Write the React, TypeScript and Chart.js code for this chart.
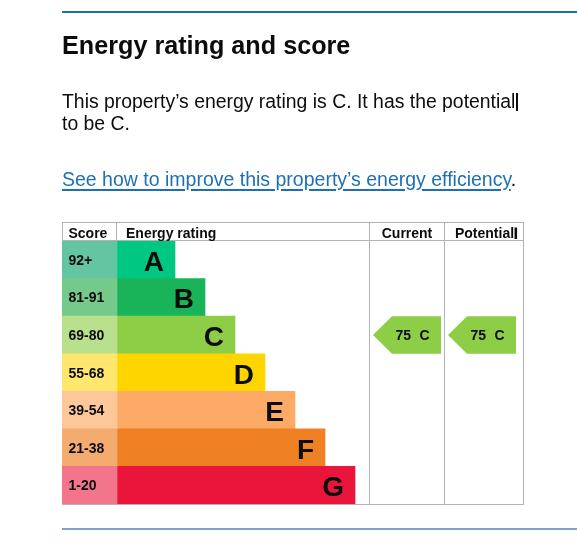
import React, { useEffect, useRef } from 'react';
import { Chart, registerables } from 'chart.js';

Chart.register(...registerables);

// ---- data ----
const ratings = ['A', 'B', 'C', 'D', 'E', 'F', 'G'];
const scoreBands = ['92+', '81-91', '69-80', '55-68', '39-54', '21-38', '1-20'];
const barLengths = [58, 88, 118, 148, 178, 208, 238];
const headers = ['Score', 'Energy rating', 'Current', 'Potential'];
const currentScore = 75;
const currentRating = 'C';
const potentialScore = 75;
const potentialRating = 'C';

// ---- styles ----
const barColors = ['#00c781', '#19b459', '#8dce46', '#ffd500', '#fcaa65', '#ef8023', '#e9153b'];
const bandColors = ['#63c5a1', '#75c98b', '#b9e08c', '#ffe66c', '#fdc79a', '#f4ab6f', '#f3758b'];
const FONT = "'Liberation Sans', Arial, Helvetica, sans-serif";
const TEXT = '#0b0c0c';
const GRID = '#b1b4b6';

// ---- layout (x-scale units: 1 unit = 1px) ----
const SCORE_W = 55;
const COL_CURRENT = 252;
const COL_POTENTIAL = 327;
const X_MAX = 407;
const HEADER_H = 19;

const tablePlugin = {
  id: 'epcTable',
  beforeDatasetsDraw(chart: any) {
    const { ctx, chartArea: a, scales } = chart;
    const x = scales.x;
    const px = (v: number) => x.getPixelForValue(v);
    const headTop = a.top - HEADER_H;
    ctx.save();
    ctx.strokeStyle = GRID;
    ctx.lineWidth = 1;
    ctx.beginPath();
    ctx.moveTo(a.left, headTop + 0.5); ctx.lineTo(a.right, headTop + 0.5);
    ctx.moveTo(a.left, a.top - 0.5); ctx.lineTo(a.right, a.top - 0.5);
    ctx.moveTo(a.left, a.bottom + 0.5); ctx.lineTo(a.right, a.bottom + 0.5);
    ctx.moveTo(a.left + 0.5, headTop); ctx.lineTo(a.left + 0.5, a.bottom + 1);
    ctx.moveTo(px(0) - 0.5, headTop); ctx.lineTo(px(0) - 0.5, a.top);
    ctx.moveTo(px(COL_CURRENT) + 0.5, headTop); ctx.lineTo(px(COL_CURRENT) + 0.5, a.bottom + 1);
    ctx.moveTo(px(COL_POTENTIAL) + 0.5, headTop); ctx.lineTo(px(COL_POTENTIAL) + 0.5, a.bottom + 1);
    ctx.moveTo(a.right - 0.5, headTop); ctx.lineTo(a.right - 0.5, a.bottom + 1);
    ctx.stroke();

    ctx.fillStyle = TEXT;
    ctx.font = `bold 14px ${FONT}`;
    ctx.textBaseline = 'alphabetic';
    const hb = a.top - 3;
    ctx.textAlign = 'left';
    ctx.fillText(headers[0], px(-SCORE_W) + 6.5, hb);
    ctx.fillText(headers[1], px(0) + 9, hb);
    ctx.textAlign = 'center';
    const cMid = (px(COL_CURRENT) + px(COL_POTENTIAL)) / 2 + 0.5;
    const pMid = (px(COL_POTENTIAL) + px(X_MAX)) / 2 + 0.5;
    ctx.fillText(headers[2], cMid, hb);
    ctx.fillText(headers[3], pMid, hb);
    const pw = ctx.measureText(headers[3]).width;
    ctx.fillRect(pMid + pw / 2 + 0.5, headTop + 5.5, 2.5, 11.5);
    ctx.restore();
  },
  afterDatasetsDraw(chart: any) {
    const { ctx, chartArea: a, scales } = chart;
    const x = scales.x;
    const y = scales.y;
    const px = (v: number) => x.getPixelForValue(v);
    const rowH = (a.bottom - a.top) / ratings.length;
    const barMeta = chart.getDatasetMeta(1);
    ctx.save();
    ctx.textBaseline = 'alphabetic';
    ratings.forEach((r, i) => {
      const cy = y.getPixelForValue(i);
      ctx.fillStyle = TEXT;
      ctx.font = `bold 14px ${FONT}`;
      ctx.textAlign = 'left';
      ctx.fillText(scoreBands[i], px(-SCORE_W) + 6.5, cy + 5);
      ctx.font = `bold 28px ${FONT}`;
      ctx.textAlign = 'right';
      const bar = barMeta.data[i];
      ctx.fillText(r, bar.x - 11, cy + 11);
    });

    const drawArrow = (colLeft: number, score: number, rating: string) => {
      const i = ratings.indexOf(rating);
      const cy = y.getPixelForValue(i);
      const top = cy - rowH / 2;
      const bot = cy + rowH / 2;
      const l = px(colLeft);
      const tip = l + 4;
      const boxL = l + 23;
      const boxR = l + 72;
      ctx.fillStyle = barColors[i];
      ctx.beginPath();
      ctx.moveTo(tip, cy);
      ctx.lineTo(boxL, top);
      ctx.lineTo(boxR, top);
      ctx.lineTo(boxR, bot);
      ctx.lineTo(boxL, bot);
      ctx.closePath();
      ctx.fill();
      ctx.fillStyle = TEXT;
      ctx.font = `bold 14px ${FONT}`;
      ctx.textAlign = 'left';
      ctx.fillText(String(score), boxL + 3.5, cy + 5);
      ctx.textAlign = 'right';
      ctx.fillText(rating, boxR - 11.5, cy + 5);
    };
    drawArrow(COL_CURRENT, currentScore, currentRating);
    drawArrow(COL_POTENTIAL, potentialScore, potentialRating);
    ctx.restore();
  },
};

function EpcChart() {
  const ref = useRef<HTMLCanvasElement | null>(null);
  useEffect(() => {
    if (!ref.current) return;
    const chart = new Chart(ref.current, {
      type: 'bar',
      data: {
        labels: ratings,
        datasets: [
          {
            data: ratings.map(() => [-SCORE_W, 0]) as any,
            backgroundColor: bandColors,
            grouped: false,
            categoryPercentage: 1,
            barPercentage: 1,
            borderWidth: 0,
          } as any,
          {
            data: barLengths,
            backgroundColor: barColors,
            grouped: false,
            categoryPercentage: 1,
            barPercentage: 1,
            borderWidth: 0,
          } as any,
        ],
      },
      options: {
        indexAxis: 'y',
        responsive: false,
        animation: false,
        events: [],
        layout: { padding: { left: 62, right: 53, top: 241, bottom: 50 } },
        plugins: { legend: { display: false }, tooltip: { enabled: false } },
        scales: {
          x: { display: false, min: -SCORE_W, max: X_MAX },
          y: { display: false },
        },
      },
      plugins: [tablePlugin],
    });
    return () => chart.destroy();
  }, []);
  return (
    <canvas
      ref={ref}
      width={577}
      height={554}
      style={{ position: 'absolute', left: 0, top: 0, width: 577, height: 554, display: 'block' }}
    />
  );
}

export default function App() {
  const base: React.CSSProperties = {
    position: 'absolute',
    left: 62,
    fontFamily: FONT,
    color: TEXT,
    whiteSpace: 'nowrap',
    margin: 0,
  };
  return (
    <div style={{ position: 'absolute', left: 0, top: 0, width: 577, height: 554, overflow: 'hidden', background: '#fff' }}>
      <EpcChart />
      <div style={{ position: 'absolute', left: 62, top: 11, width: 515, height: 1.5, background: '#1d70b8' }} />
      <div style={{ ...base, top: 33, fontSize: 25.2, lineHeight: '25px', fontWeight: 700 }}>
        Energy rating and score
      </div>
      <div style={{ ...base, top: 91, fontSize: 19.4, lineHeight: '21.5px' }}>
        This property’s energy rating is C. It has the potential
        <span style={{ display: 'inline-block', width: 1.5, height: 18, background: TEXT, verticalAlign: '-3px', marginLeft: 1 }} />
        <br />
        to be C.
      </div>
      <div style={{ ...base, top: 168.5, fontSize: 19.5, lineHeight: '21.5px' }}>
        <a
          href="#"
          style={{ color: '#1d70b8', textDecoration: 'underline', textDecorationThickness: '2px', textUnderlineOffset: '3px' }}
        >
          See how to improve this property’s energy efficiency
        </a>
        .
      </div>
      <div style={{ position: 'absolute', left: 62, top: 528, width: 515, height: 2, background: '#7fa1cf' }} />
    </div>
  );
}
